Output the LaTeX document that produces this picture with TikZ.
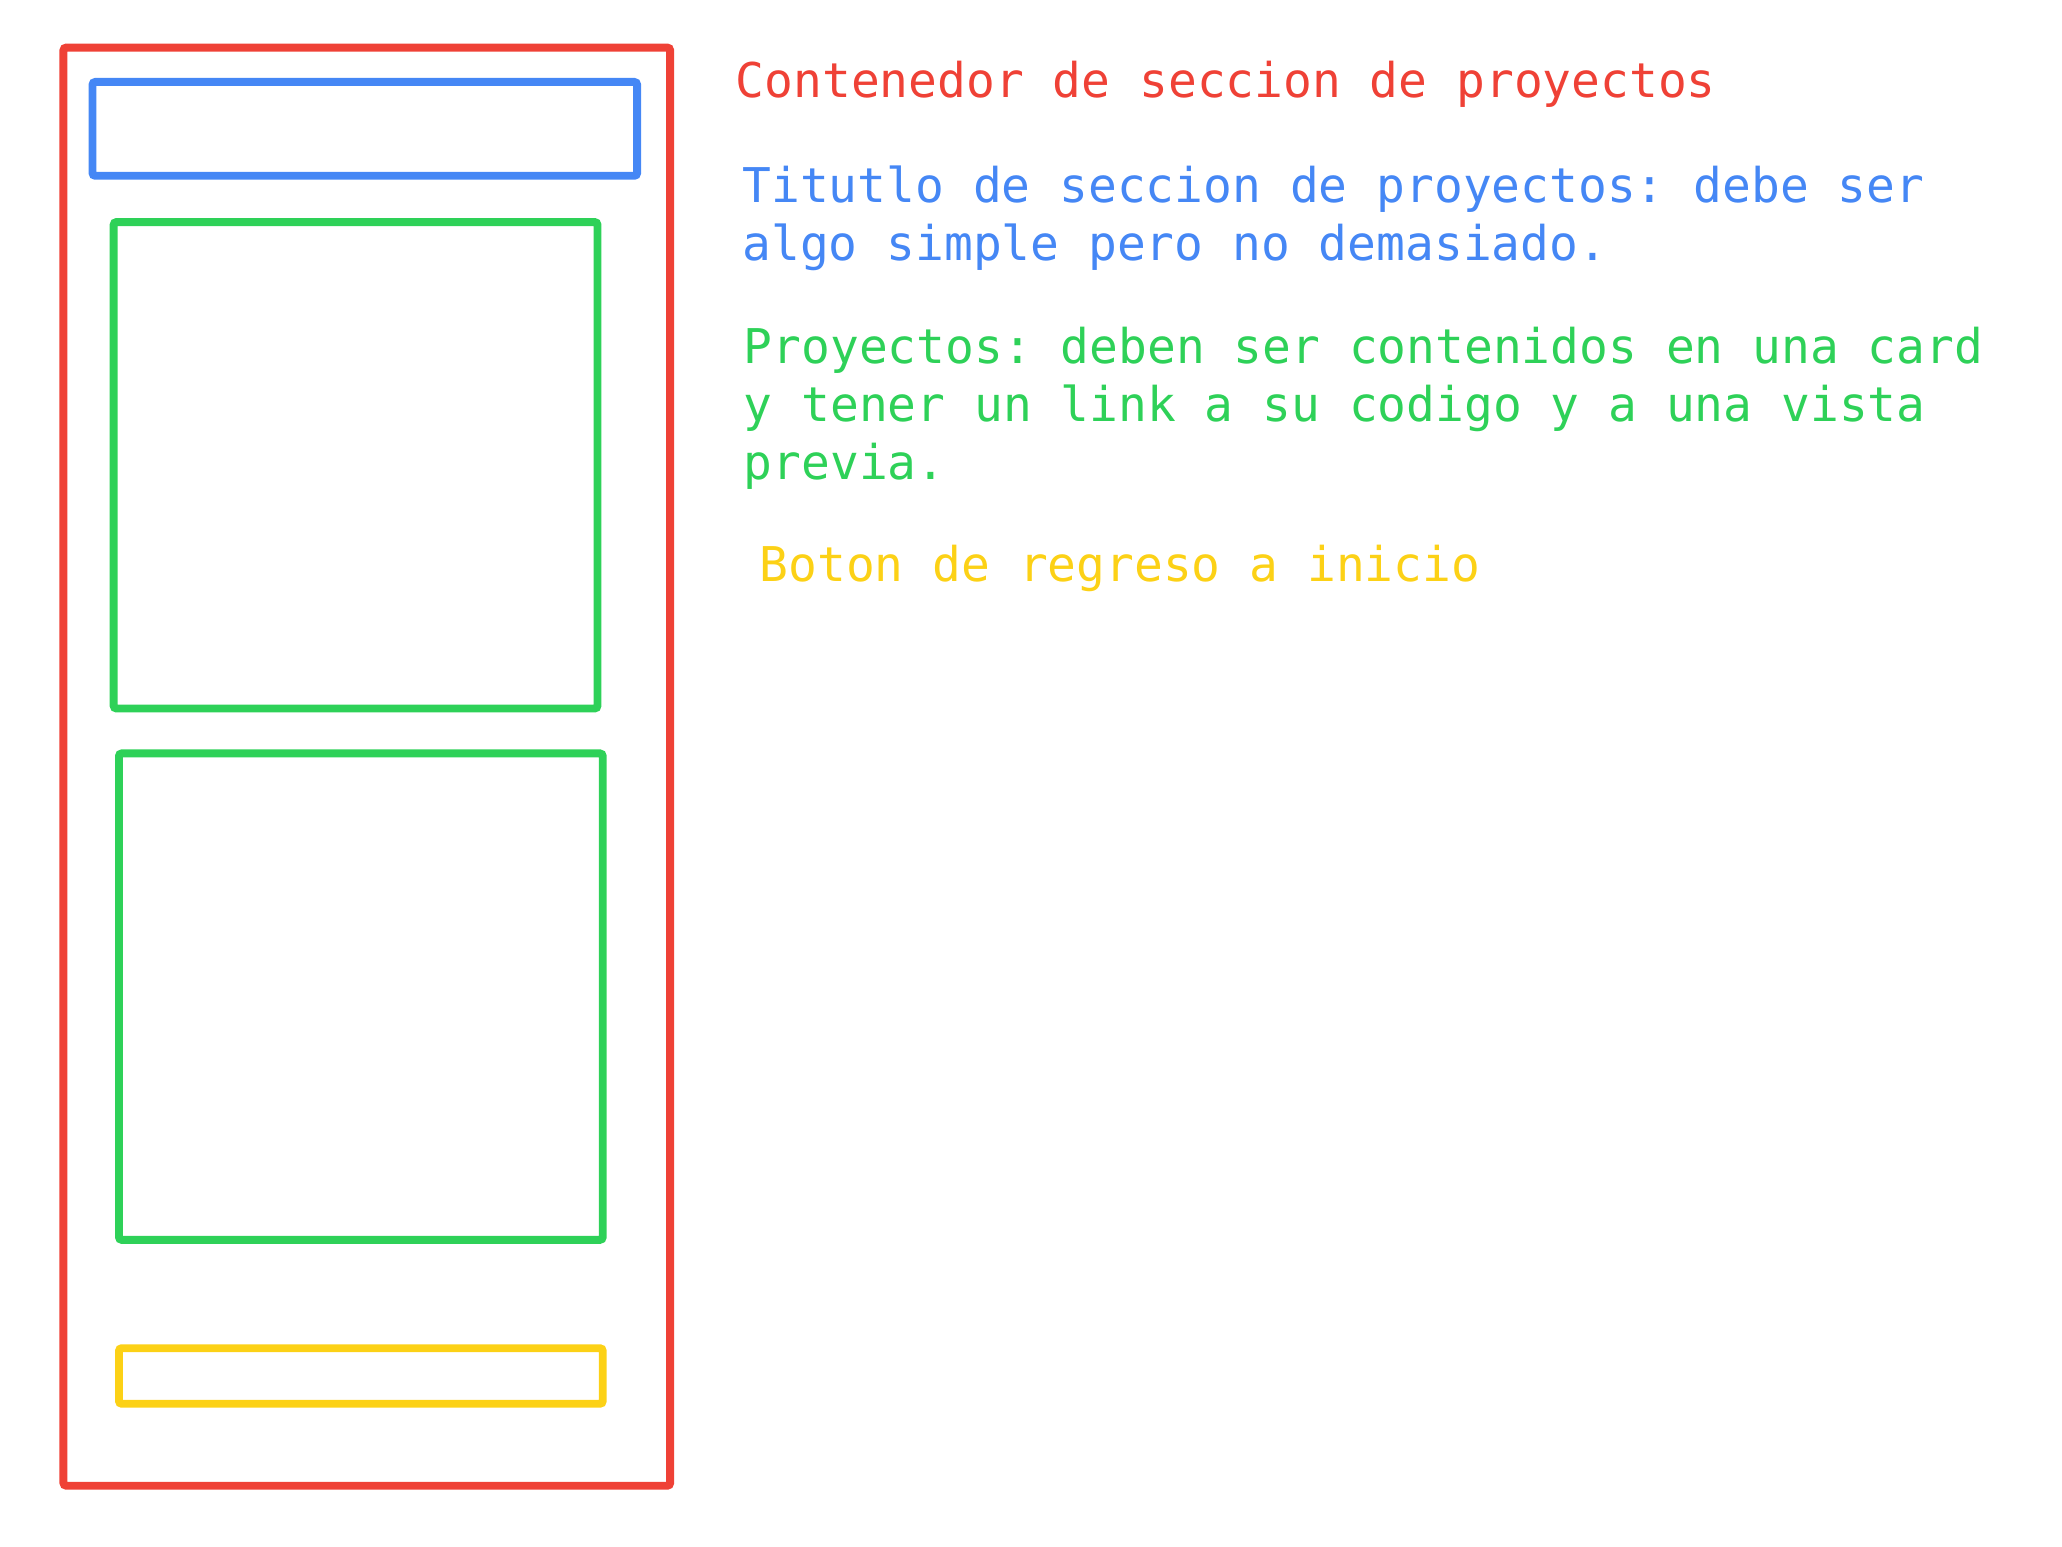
\documentclass[tikz,border=0pt]{standalone}
\usepackage{fontspec}
\setmonofont{DejaVu Sans Mono}
\definecolor{boxred}{HTML}{EF4136}
\definecolor{boxblue}{HTML}{4587F5}
\definecolor{boxgreen}{HTML}{2ED158}
\definecolor{boxyellow}{HTML}{FCD116}
\begin{document}
\begin{tikzpicture}[x=0.01cm,y=-0.01cm,
  frame/.style={line width=1.7pt,rounded corners=0.6pt},
  note/.style={anchor=base west,inner sep=0pt,align=left,
    font=\ttfamily\fontsize{10.3}{12.5}\selectfont}]
\useasboundingbox (0,0) rectangle (1560,1170);

% wireframe of the section
\path[draw,frame,boxred] (48,36) rectangle (507,1124);
\path[draw,frame,boxblue] (70,62) rectangle (482,133);
\path[draw,frame,boxgreen] (86,168) rectangle (452,536);
\path[draw,frame,boxgreen] (90,570) rectangle (456,938);
\path[draw,frame,boxyellow] (90,1020) rectangle (456,1062);

% notes (base = last line)
\node[note,text=boxred] (contenedor) at (556,74)
 {Contenedor de seccion de proyectos};
\node[note,text=boxblue] (titulo) at (561,197)
 {Titutlo de seccion de proyectos: debe ser\\algo simple pero no demasiado.};
\node[note,text=boxgreen] (proyectos) at (562,363)
 {Proyectos: deben ser contenidos en una card\\y tener un link a su codigo y a una vista\\previa.};
\node[note,text=boxyellow] (boton) at (574,440)
 {Boton de regreso a inicio};
\end{tikzpicture}
\end{document}
